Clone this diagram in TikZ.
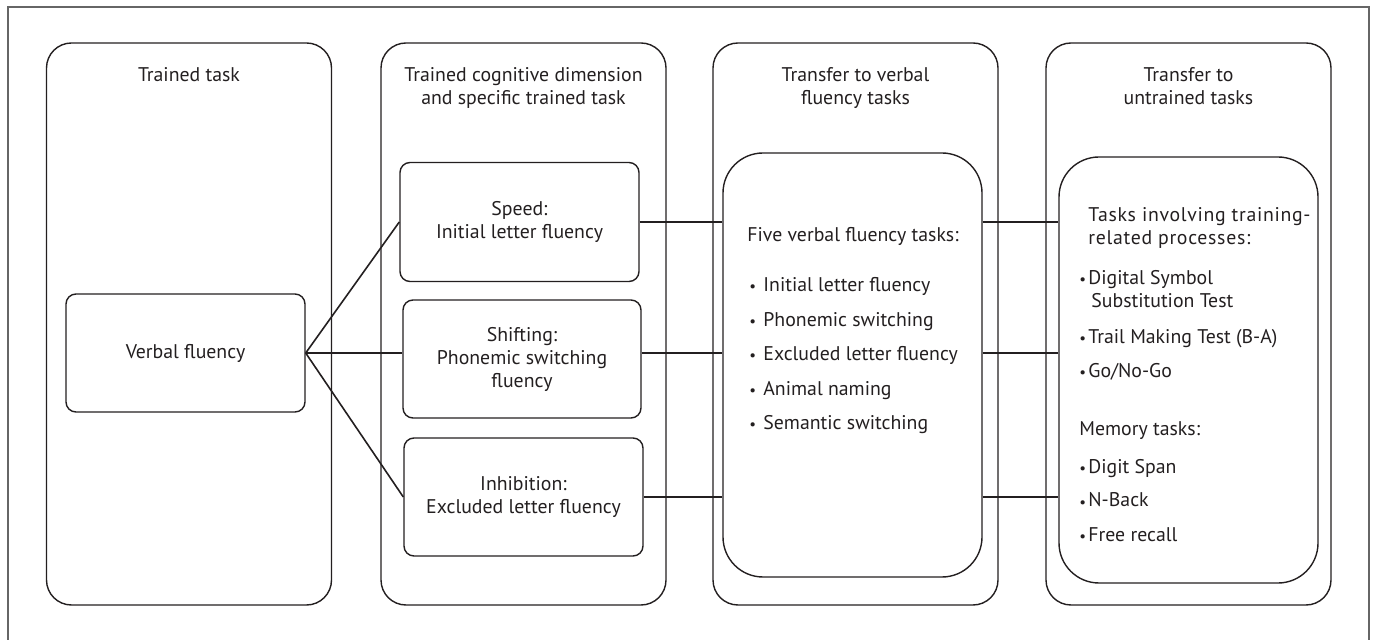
\documentclass[tikz,border=0pt]{standalone}
\usepackage{fontspec}
\setmainfont{PT Sans}
\definecolor{txt}{HTML}{231F20}
\definecolor{framec}{HTML}{666666}
\newcommand{\smbul}{{\fontsize{7.5}{7.5}\selectfont •}}
\newcommand{\wideline}[1]{{\addfontfeature{LetterSpace=3.5}#1}}
\begin{document}
\begin{tikzpicture}[x=0.5pt,y=-0.5pt,
  every node/.style={font=\fontsize{9.9}{11.5}\selectfont, text=txt},
  colbox/.style={draw=txt, line width=0.7pt, rounded corners=12.5pt, minimum width=142.5pt, minimum height=281pt, inner sep=0pt},
  inbox/.style={draw=txt, line width=0.7pt, rounded corners=5pt, align=center, minimum width=119.5pt, minimum height=59pt, inner sep=0pt},
  bigbox/.style={draw=txt, line width=0.7pt, rounded corners=20pt, minimum width=129.5pt, inner sep=0pt},
  coltitle/.style={align=center, inner sep=0pt, anchor=base},
  listtext/.style={align=left, inner sep=0pt, anchor=base west},
  conn/.style={draw=txt, line width=0.8pt}
]
\useasboundingbox (0,0) rectangle (1375,640);
% outer frame (bottom edge lies outside the picture)
\draw[framec, line width=0.9pt] (8,645) -- (8,7) -- (1369,7) -- (1369,645);

% columns
\node[colbox] (c1) at (189,324) {};
\node[colbox] (c2) at (523.5,324) {};
\node[colbox] (c3) at (855.5,324) {};
\node[colbox] (c4) at (1188.5,324) {};

% column titles (anchor = baseline of the last line)
\node[coltitle] (t1) at (189,82) {Trained task};
\node[coltitle] (t2) at (523.5,105) {Trained cognitive dimension\\and specific trained task};
\node[coltitle] (t3) at (855.5,105) {Transfer to verbal\\fluency tasks};
\node[coltitle] (t4) at (1188.5,105) {Transfer to\\untrained tasks};

% inner boxes
\node[inbox] (verbal) at (185.5,353) {Verbal fluency};
\node[inbox, minimum height=59.5pt] (speed) at (519.5,222) {Speed:\\Initial letter fluency};
\node[inbox, minimum width=119pt] (shift) at (522,359) {Shifting:\\Phonemic switching\\fluency};
\node[inbox] (inhib) at (523.5,497) {Inhibition:\\Excluded letter fluency};
\node[bigbox, minimum height=212pt] (five) at (852.5,365) {};
\node[bigbox, minimum height=213pt] (tasks) at (1188.5,370) {};

% list texts (anchor = baseline of the last line)
\node[listtext] (fivetext) at (747,430) {Five verbal fluency tasks:\\[13.5pt]
\hspace*{1pt}\makebox[7pt][l]{\smbul}Initial letter fluency\\[5.75pt]
\hspace*{1pt}\makebox[7pt][l]{\smbul}Phonemic switching\\[5.75pt]
\hspace*{1pt}\makebox[7pt][l]{\smbul}Excluded letter fluency\\[5.75pt]
\hspace*{1pt}\makebox[7pt][l]{\smbul}Animal naming\\[5.75pt]
\hspace*{1pt}\makebox[7pt][l]{\smbul}Semantic switching};

\node[listtext] (taskstext) at (1079,541) {\hspace*{4.5pt}\wideline{Tasks involving training-}\\
\hspace*{4.5pt}\wideline{related processes:}\\[8.5pt]
\makebox[4.5pt][l]{\smbul}Digital Symbol\\
\hspace*{6pt}Substitution Test\\[6pt]
\makebox[4.5pt][l]{\smbul}Trail Making Test (B-A)\\[6pt]
\makebox[4.5pt][l]{\smbul}Go/No-Go\\[17pt]
Memory tasks:\\[7.5pt]
\makebox[4.5pt][l]{\smbul}Digit Span\\[5.5pt]
\makebox[4.5pt][l]{\smbul}N-Back\\[5.5pt]
\makebox[4.5pt][l]{\smbul}Free recall};

% connectors
\draw[conn] (verbal.east) -- (speed.west);
\draw[conn] (verbal.east) -- (verbal.east -| shift.west);
\draw[conn] (verbal.east) -- (inhib.west);

\draw[conn] (speed.east) -- (speed.east -| five.west);
\draw[conn] (shift.east |- verbal.east) -- (verbal.east -| five.west);
\draw[conn] (inhib.east) -- (inhib.east -| five.west);

\draw[conn] (five.east |- speed.east) -- (speed.east -| tasks.west);
\draw[conn] (five.east |- verbal.east) -- (verbal.east -| tasks.west);
\draw[conn] (five.east |- inhib.east) -- (inhib.east -| tasks.west);
\end{tikzpicture}
\end{document}
